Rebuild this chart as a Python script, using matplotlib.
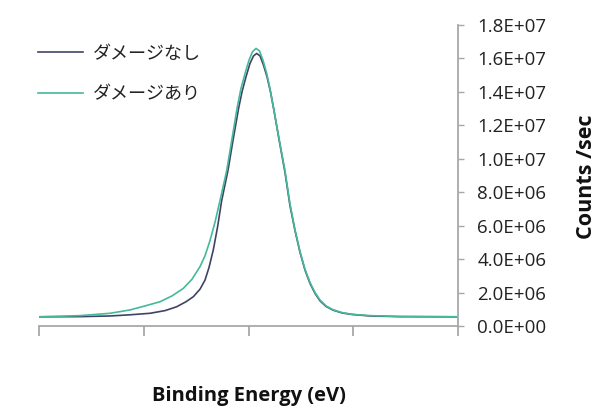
import matplotlib
matplotlib.use("Agg")
import matplotlib.pyplot as plt
from matplotlib.ticker import FuncFormatter

# values (x in tick units 0..4, y in 1e6 counts/sec)
x_no_damage = [0.000, 0.391, 0.678, 0.869, 1.060, 1.203, 1.314, 1.403, 1.473, 1.537,
               1.585, 1.623, 1.664, 1.704, 1.744, 1.804, 1.852, 1.905, 1.938, 1.976,
               2.014, 2.048, 2.078, 2.110, 2.143, 2.177, 2.210, 2.243, 2.296, 2.348,
               2.396, 2.444, 2.492, 2.539, 2.587, 2.635, 2.683, 2.740, 2.807, 2.893,
               2.988, 3.160, 3.446, 4.000]
no_damage = [0.55, 0.56, 0.60, 0.67, 0.76, 0.92, 1.15, 1.45, 1.75, 2.20,
             2.75, 3.50, 4.55, 5.90, 7.50, 9.30, 11.1, 13.0, 14.0, 14.9,
             15.7, 16.15, 16.3, 16.15, 15.6, 14.9, 14.0, 12.9, 11.0, 9.20,
             7.20, 5.70, 4.40, 3.35, 2.55, 1.95, 1.50, 1.17, 0.95, 0.78,
             0.69, 0.60, 0.56, 0.55]

x_damage = [0.000, 0.391, 0.678, 0.869, 1.012, 1.155, 1.270, 1.378, 1.461, 1.537,
            1.585, 1.632, 1.680, 1.728, 1.792, 1.840, 1.893, 1.928, 1.967, 2.005,
            2.038, 2.072, 2.105, 2.138, 2.174, 2.205, 2.237, 2.294, 2.348, 2.396,
            2.444, 2.492, 2.539, 2.587, 2.635, 2.683, 2.740, 2.807, 2.893, 2.988,
            3.160, 3.446, 4.000]
damage = [0.55, 0.62, 0.76, 0.96, 1.20, 1.45, 1.80, 2.25, 2.80, 3.55,
          4.20, 5.10, 6.20, 7.50, 9.30, 11.1, 13.1, 14.2, 15.1, 15.9,
          16.4, 16.6, 16.45, 15.9, 15.1, 14.2, 13.1, 11.1, 9.30, 7.30,
          5.75, 4.45, 3.40, 2.60, 2.00, 1.55, 1.20, 0.97, 0.80, 0.70,
          0.62, 0.57, 0.55]

labels = ["ダメージなし", "ダメージあり"]
y_ticks = [0, 2, 4, 6, 8, 10, 12, 14, 16, 18]

no_damage = [v * 1e6 for v in no_damage]
damage = [v * 1e6 for v in damage]

plt.rcParams['font.family'] = ['Open Sans', 'DejaVu Sans']

fig = plt.figure(figsize=(6.01, 4.12), dpi=100)
ax = fig.add_axes([39 / 601, 1 - 326 / 412, 419 / 601, 301 / 412])

ax.plot(x_no_damage, no_damage, color='#3f4466', lw=1.2, label=labels[0])
ax.plot(x_damage, damage, color='#44b99b', lw=1.2, label=labels[1])

ax.set_xlim(0, 4)
ax.set_ylim(0, 1.8e7)
ax.set_xticks([0, 1, 2, 3, 4])
ax.set_xticklabels([])
ax.set_yticks([v * 1e6 for v in y_ticks])
ax.yaxis.set_major_formatter(FuncFormatter(lambda v, p: f"{v:.1E}"))
ax.yaxis.tick_right()

for s in ['top', 'left']:
    ax.spines[s].set_visible(False)
for s in ['right', 'bottom']:
    ax.spines[s].set_color('#a8a8a8')
    ax.spines[s].set_linewidth(1.3)
ax.tick_params(axis='x', colors='#a8a8a8', length=7, width=1.3, direction='out')
ax.tick_params(axis='y', colors='#a8a8a8', length=4, width=1.0, direction='out',
               labelcolor='#222222', labelsize=13.5, pad=10)

# axis titles placed like the reference
fig.text(587 / 601, 1 - 177 / 412, "Counts /sec", fontsize=15.5, fontweight='bold',
         rotation=90, ha='center', va='center', color='#111111')
fig.text(249 / 601, 1 - 396 / 412, "Binding Energy (eV)", fontsize=14.5,
         fontweight='bold', ha='center', va='center', color='#111111')

leg = ax.legend(loc='upper left', bbox_to_anchor=(-0.003, 0.935), frameon=False,
                borderaxespad=0, borderpad=0,
                prop={'family': ['Noto Sans CJK JP', 'DejaVu Sans'], 'size': 13},
                handlelength=2.5, handletextpad=0.55, labelspacing=1.25,
                labelcolor='#222222')

fig.savefig("out.png", dpi=100)
